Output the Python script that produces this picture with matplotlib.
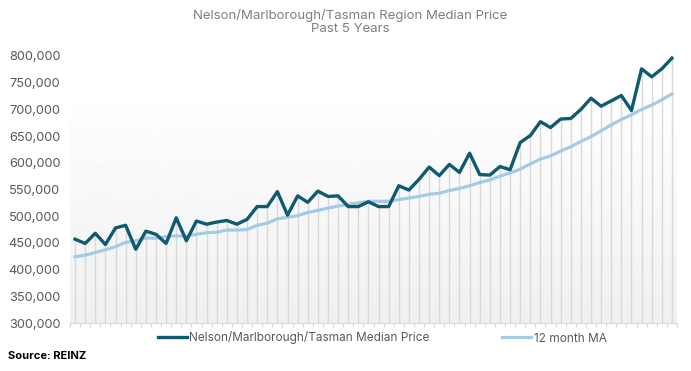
import numpy as np
import matplotlib
matplotlib.use("Agg")
import matplotlib.pyplot as plt
from matplotlib.ticker import FuncFormatter

plt.rcParams['font.family'] = ['Inter', 'DejaVu Sans']

# monthly values, last 5 years (60 months)
median_price = [457, 449, 468, 447, 478, 483, 438, 472, 466, 449,
                497, 454, 491, 485, 489, 492, 485, 494, 518, 518,
                546, 502, 538, 526, 547, 537, 538, 518, 518, 527,
                518, 518, 557, 549, 569, 592, 576, 597, 582, 618,
                578, 577, 593, 587, 638, 651, 677, 666, 682, 683,
                700, 721, 706, 716, 726, 698, 776, 761, 776, 796]
ma_12 = [424, 427, 432, 437, 443, 451, 454, 459, 459, 462,
         463, 463, 466, 469, 470, 474, 474, 475, 483, 487,
         495, 498, 501, 507, 511, 515, 519, 522, 525, 528,
         528, 528, 531, 534, 537, 541, 543, 548, 552, 557,
         563, 568, 575, 581, 588, 598, 607, 613, 622, 630,
         640, 649, 660, 671, 681, 690, 700, 708, 718, 729]
median_price = np.array(median_price) * 1000
ma_12 = np.array(ma_12) * 1000
months = np.arange(len(median_price))

title = "Nelson/Marlborough/Tasman Region Median Price\nPast 5 Years"
dark = "#0f5a70"
light = "#a3cbe5"
grey_text = "#595959"

fig = plt.figure(figsize=(6.91, 3.71), dpi=100)
ax = fig.add_axes([70 / 691, 1 - 323 / 371, 607 / 691, 267 / 371])

ax.set_xlim(-0.5, len(months) - 0.5)
ax.set_ylim(300000, 800000)

# background gradient of the plot area
grad = np.linspace(0.94, 1.0, 256).reshape(-1, 1)
ax.imshow(grad, cmap='gray', vmin=0, vmax=1, aspect='auto', origin='lower',
          extent=(-0.5, len(months) - 0.5, 300000, 742000), zorder=0)

# drop lines
ax.vlines(months, 300000, median_price, color="#d9d9d9", lw=1.0, zorder=1)

ax.plot(months, ma_12, color=light, lw=2.3, label="12 month MA", zorder=3)
ax.plot(months, median_price, color=dark, lw=2.4,
        label="Nelson/Marlborough/Tasman Median Price", zorder=4)

for s in ['top', 'right', 'left']:
    ax.spines[s].set_visible(False)
ax.spines['bottom'].set_color("#d9d9d9")
ax.set_xticks(np.arange(len(months) + 1) - 0.5)
ax.set_xticklabels([])
ax.tick_params(axis='x', length=3, color="#d9d9d9", direction='out')
ax.set_yticks(np.arange(300000, 800001, 50000))
ax.yaxis.set_major_formatter(FuncFormatter(lambda v, p: f"{int(v):,}"))
ax.tick_params(axis='y', length=0, labelsize=9.2, labelcolor=grey_text, pad=7)

fig.text(0.507, 1 - 22 / 371, title, ha='center', va='center',
         fontsize=9.5, color="#7f7f7f", linespacing=1.1)

h_ma, h_med = ax.get_legend_handles_labels()[0]
fig.legend([h_med, h_ma], ["Nelson/Marlborough/Tasman Median Price", "12 month MA"],
           loc='center', bbox_to_anchor=(0.553, 1 - 338 / 371), ncol=2,
           frameon=False, fontsize=8.5, handlelength=2.5, handletextpad=0.2,
           columnspacing=6.1, labelcolor=grey_text)

fig.text(8 / 691, 1 - 356 / 371, "Source: REINZ", fontsize=8, fontweight='bold',
         color='black', va='center', ha='left')

fig.savefig("out.png", dpi=100)
